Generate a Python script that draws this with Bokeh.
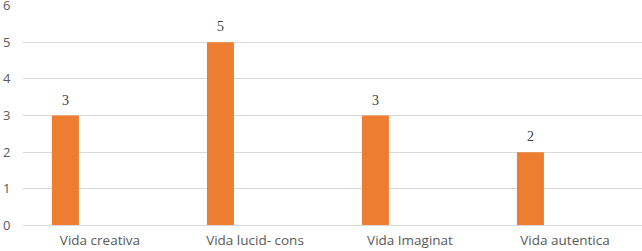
from bokeh.plotting import figure
from bokeh.models import ColumnDataSource, FactorRange, Range1d, SingleIntervalTicker, LabelSet
from bokeh.transform import dodge
from bokeh.embed import file_html
from bokeh.resources import INLINE

categories = ["Vida creativa", "Vida lucid- cons", "Vida Imaginat", "Vida autentica"]
values = [3, 5, 3, 2]
labels = ["3", "5", "3", "2"]

src = ColumnDataSource(dict(cat=categories, val=values, lab=labels))

p = figure(x_range=FactorRange(*categories, range_padding=0.0), y_range=Range1d(0, 6),
           width=642, height=251, output_backend="svg", toolbar_location=None,
           min_border_left=0, min_border_right=0, min_border_top=5, min_border_bottom=0)
p.outline_line_color = None
p.background_fill_color = "white"
p.border_fill_color = "white"

p.vbar(x=dodge("cat", -0.223, range=p.x_range), top="val", width=0.174, source=src,
       fill_color="#ED7D31", line_color=None)

lbl = LabelSet(x=dodge("cat", -0.223, range=p.x_range), y="val", text="lab", source=src,
               text_align="center", text_baseline="bottom", y_offset=11,
               text_font_size="14px", text_color="#404040", text_font="Open Sans")
p.add_layout(lbl)

p.yaxis.ticker = SingleIntervalTicker(interval=1)
p.yaxis.axis_line_color = None
p.yaxis.major_tick_line_color = None
p.yaxis.minor_tick_line_color = None
p.yaxis.major_tick_out = 0
p.yaxis.major_tick_in = 0
p.yaxis.major_label_standoff = 8
p.yaxis.major_label_text_font = "Open Sans"
p.yaxis.major_label_text_font_size = "13px"
p.yaxis.major_label_text_color = "#595959"

p.xaxis.axis_line_color = "#D9D9D9"
p.xaxis.major_tick_line_color = None
p.xaxis.minor_tick_line_color = None
p.xaxis.major_tick_out = 0
p.xaxis.major_tick_in = 0
p.xaxis.major_label_standoff = 5
p.xaxis.major_label_text_font = "Open Sans"
p.xaxis.major_label_text_font_size = "13.5px"
p.xaxis.major_label_text_color = "#595959"

p.xgrid.grid_line_color = None
p.ygrid.grid_line_color = "#D9D9D9"
p.ygrid.grid_line_width = 1

open("out.html", "w").write(file_html(p, INLINE))
